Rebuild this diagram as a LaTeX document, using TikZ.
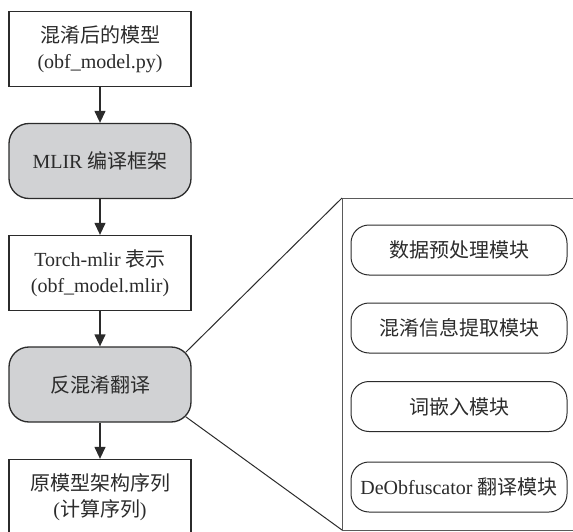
\documentclass[tikz,border=0pt]{standalone}
\usepackage{fontspec}
\setmainfont{Liberation Serif}
\newfontfamily\cjk{Noto Sans CJK SC}
\usetikzlibrary{arrows.meta,calc}
\newcommand\zh[1]{{\cjk #1}}
\definecolor{inkc}{HTML}{2B2B2B}
\definecolor{stagec}{HTML}{D1D2D4}
\definecolor{panelc}{HTML}{5A5A5A}
\begin{document}
\begin{tikzpicture}[x=1pt,y=-1pt,
  plainbox/.style={draw=inkc, line width=1.3pt, fill=white,
    minimum width=182, minimum height=75, align=center, inner sep=0},
  stagebox/.style={plainbox, fill=stagec, rounded corners=20},
  modbox/.style={draw=inkc, line width=1pt, rounded corners=18,
    minimum width=216, minimum height=50, inner sep=0},
  flow/.style={draw=inkc, line width=1.3pt, -{Triangle[length=12pt,width=11pt]}},
  zoomline/.style={draw=inkc, line width=1pt},
  panel/.style={draw=panelc, line width=0.8pt},
  font=\fontsize{20}{26.5}\selectfont, text=inkc
]
\useasboundingbox (0,0) rectangle (573,532);
\clip (0,0) rectangle (573,532);

% main pipeline
\node[plainbox] (b1) at (100,49)  {\zh{混淆后的模型}\\(obf\_model.py)};
\node[stagebox] (b2) at (100,161) {MLIR \zh{编译框架}};
\node[plainbox] (b3) at (100,273) {Torch-mlir \zh{表示}\\(obf\_model.mlir)};
\node[stagebox] (b4) at (100,384.5) {\zh{反混淆翻译}};
\node[plainbox] (b5) at (100,497) {\zh{原模型架构序列}\\(\zh{计算序列})};

\draw[flow] (b1) -- (b2);
\draw[flow] (b2) -- (b3);
\draw[flow] (b3) -- (b4);
\draw[flow] (b4) -- (b5);

% detail panel for the translation stage
\coordinate (ptl) at (342,198);
\coordinate (pbl) at (342,530);
\coordinate (ptr) at (580,198);
\coordinate (pbr) at (580,530);
\draw[panel] (ptr) -- (ptl) -- (pbl) -- (pbr);

\draw[zoomline] ($(b4.north east)+(-5.86,5.86)$) -- (ptl);
\draw[zoomline] ($(b4.south east)+(-5.86,-5.86)$) -- (pbl);

\node[modbox] (m1) at (459,250)   {\zh{数据预处理模块}};
\node[modbox] (m2) at (459,328)   {\zh{混淆信息提取模块}};
\node[modbox] (m3) at (459,406.5) {\zh{词嵌入模块}};
\node[modbox] (m4) at (459,487)   {DeObfuscator \zh{翻译模块}};
\end{tikzpicture}
\end{document}
